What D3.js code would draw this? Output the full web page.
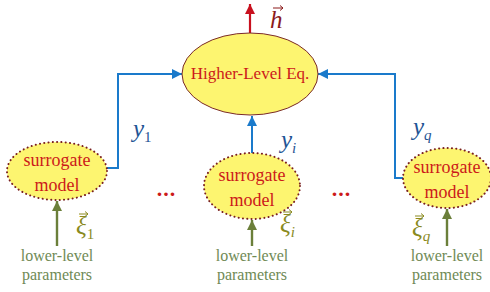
<!DOCTYPE html>
<html>
<head>
<meta charset="utf-8">
<script src="https://cdn.jsdelivr.net/npm/d3@7"></script>
</head>
<body style="margin:0">
<script>
// Diagram content
const topLabel = 'Higher-Level Eq.';
const outputLabel = 'h';
const modelLabels = ['surrogate', 'model'];
const outputSubs = ['1', 'i', 'q'];
const inputSubs = ['1', 'i', 'q'];
const inputLabels = ['lower-level', 'parameters'];
const gapLabels = ['...', '...'];

const width = 490;
const height = 292;

const svg = d3.select('body')
    .append('svg')
    .attr('width', width)
    .attr('height', height);

// every label is a serif text
function label(parent) {
    return parent.append('text').attr('font-family', 'Liberation Serif');
}

// horizontal placement of the three surrogate models
const x = d3.scalePoint()
    .domain(outputSubs)
    .range([57, 447]);

const modelY = { '1': 171, 'i': 186, 'q': 178 };
const modelR = { '1': [50, 29], 'i': [48, 33], 'q': [44, 30] };

const hub = { cx: 250, cy: 74, rx: 68, ry: 41 };

// Arrow markers
const defs = svg.append('defs');
function addMarker(id, color, w, h) {
    defs.append('marker')
        .attr('id', id)
        .attr('viewBox', '0 0 10 10')
        .attr('refX', 10).attr('refY', 5)
        .attr('markerUnits', 'userSpaceOnUse')
        .attr('markerWidth', w).attr('markerHeight', h)
        .attr('orient', 'auto')
        .append('path')
        .attr('d', 'M0,0L10,5L0,10Z')
        .attr('fill', color);
}
addMarker('arrow-blue', '#1a7acb', 11, 10);
addMarker('arrow-red', '#c8101e', 12, 10);
addMarker('arrow-green', '#6b7f3a', 12, 10);

const blue = '#1a7acb';
const line = d3.line();

// Output arrow of higher level equation
svg.append('path')
    .attr('d', line([[hub.cx, hub.cy - hub.ry], [hub.cx, 4]]))
    .attr('stroke', '#c8101e').attr('stroke-width', 2.2)
    .attr('fill', 'none')
    .attr('marker-end', 'url(#arrow-red)');

// links from models to the hub ellipse
const links = {
    '1': [[x('1') + modelR['1'][0], 168], [118, 168], [118, hub.cy], [hub.cx - hub.rx, hub.cy]],
    'i': [[x('i'), modelY['i'] - modelR['i'][1]], [x('i'), hub.cy + hub.ry + 1]],
    'q': [[x('q') - modelR['q'][0], 178], [395, 178], [395, hub.cy], [hub.cx + hub.rx, hub.cy]]
};
outputSubs.forEach(s => {
    svg.append('path')
        .attr('d', line(links[s]))
        .attr('stroke', blue).attr('stroke-width', 2)
        .attr('fill', 'none')
        .attr('marker-end', 'url(#arrow-blue)');
});

// hub ellipse
svg.append('ellipse')
    .attr('cx', hub.cx).attr('cy', hub.cy)
    .attr('rx', hub.rx).attr('ry', hub.ry)
    .attr('fill', '#fdf570')
    .attr('stroke', '#7a2a2a').attr('stroke-width', 1);

label(svg)
    .attr('x', hub.cx).attr('y', hub.cy + 5)
    .attr('text-anchor', 'middle')
    .attr('fill', '#cc1a1a')
    .attr('font-size', 17)
    .text(topLabel);

// h vector label
const hg = svg.append('g').attr('transform', 'translate(270,28)');
label(hg)
    .attr('fill', '#8b1a1a')
    .attr('font-size', 25).attr('font-style', 'italic')
    .text(outputLabel);
hg.append('path')
    .attr('d', 'M3,-20L13,-20M10,-22.5L13,-20L10,-17.5')
    .attr('stroke', '#8b1a1a').attr('stroke-width', 1).attr('fill', 'none');

// surrogate models
outputSubs.forEach(s => {
    const cx = x(s), cy = modelY[s];
    const [rx, ry] = modelR[s];
    svg.append('ellipse')
        .attr('cx', cx).attr('cy', cy)
        .attr('rx', rx).attr('ry', ry)
        .attr('fill', '#fdf570')
        .attr('stroke', '#7a2020').attr('stroke-width', 2)
        .attr('stroke-dasharray', '0.1 4.2')
        .attr('stroke-linecap', 'round');
    modelLabels.forEach((t, k) => {
        label(svg)
            .attr('x', cx).attr('y', cy - 5 + k * 25)
            .attr('text-anchor', 'middle')
            .attr('fill', '#cc1a1a')
            .attr('font-size', 18)
            .text(t);
    });
    // input arrow
    svg.append('path')
        .attr('d', line([[cx, 246], [cx, cy + ry + 1]]))
        .attr('stroke', '#6b7f3a').attr('stroke-width', 2.4)
        .attr('fill', 'none')
        .attr('marker-end', 'url(#arrow-green)');
    inputLabels.forEach((t, k) => {
        label(svg)
            .attr('x', cx).attr('y', 261 + k * 19)
            .attr('text-anchor', 'middle')
            .attr('fill', '#6f8a55')
            .attr('font-size', 16)
            .text(t);
    });
});

// y labels
const yPos = { '1': [133, 137], 'i': [281, 148], 'q': [413, 135] };
outputSubs.forEach(s => {
    const t = label(svg)
        .attr('x', yPos[s][0]).attr('y', yPos[s][1])
        .attr('fill', '#1f5494')
        .attr('font-size', 25).attr('font-style', 'italic');
    t.append('tspan').text('y');
    t.append('tspan').attr('dy', 5).attr('font-size', 15)
        .attr('font-style', s === '1' ? 'normal' : 'italic').text(s);
});

// xi labels
const xiPos = { '1': [76, 234], 'i': [280, 232], 'q': [412, 236] };
inputSubs.forEach(s => {
    const g = svg.append('g').attr('transform', `translate(${xiPos[s][0]},${xiPos[s][1]})`);
    const t = label(g)
        .attr('fill', '#8a8a1e')
        .attr('font-size', 25).attr('font-style', 'italic');
    t.append('tspan').text('ξ');
    t.append('tspan').attr('dy', 5).attr('font-size', 15)
        .attr('font-style', s === '1' ? 'normal' : 'italic').text(s);
    g.append('path')
        .attr('d', 'M3,-20L12,-20M9,-22.5L12,-20L9,-17.5')
        .attr('stroke', '#8a8a1e').attr('stroke-width', 1).attr('fill', 'none');
});

// gap dots between neighbouring models
const gapOffset = [12, -8];
gapLabels.forEach((t, k) => {
    const mid = (x(outputSubs[k]) + x(outputSubs[k + 1])) / 2 + gapOffset[k];
    label(svg)
        .attr('x', mid).attr('y', 196)
        .attr('text-anchor', 'middle')
        .attr('fill', '#cc1a1a')
        .attr('font-size', 22)
        .attr('font-weight', 'bold')
        .attr('letter-spacing', 1)
        .text(t);
});
</script>
</body>
</html>
